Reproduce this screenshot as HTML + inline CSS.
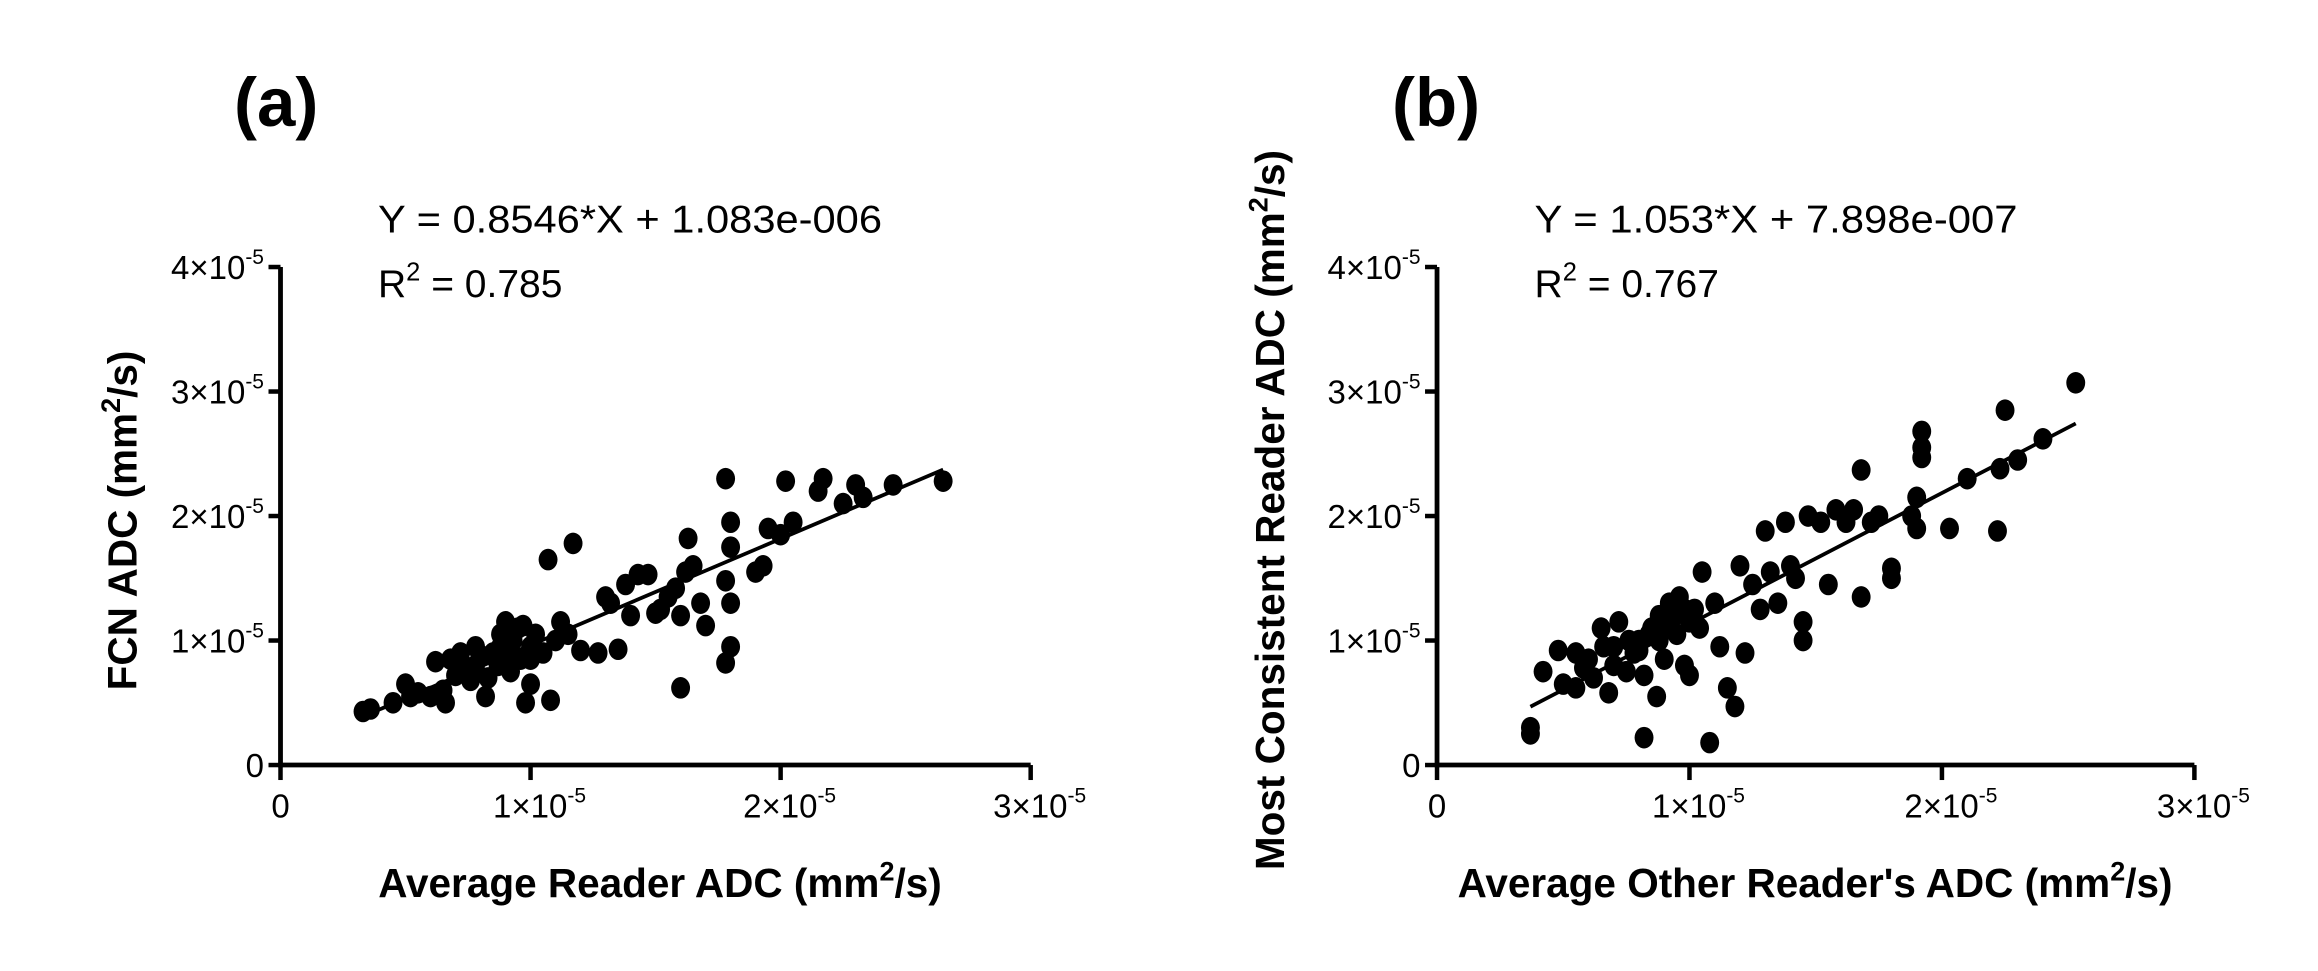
<!DOCTYPE html>
<html><head><meta charset="utf-8"><style>
html,body{margin:0;padding:0;background:#fff;}
svg{display:block;font-family:"Liberation Sans",Arial,sans-serif;}
</style></head><body>
<svg id="chart" width="2318" height="971" viewBox="0 0 1545.3 647.3" xmlns="http://www.w3.org/2000/svg"></svg>
<script>
// Panel (a) data (units of 1e-5 mm^2/s)
const aX=[0.33,0.36,0.45,0.5,0.52,0.55,0.6,0.62,0.65,0.66,0.68,0.7,0.72,0.75,0.76,0.78,0.8,0.82,0.83,0.85,0.87,0.88,0.9,0.92,0.93,0.95,0.96,0.97,0.98,1.0,1.0,1.02,1.05,1.07,1.08,1.1,1.12,1.15,1.17,1.2,1.27,1.3,1.32,1.35,1.38,1.4,1.43,1.47,1.5,1.52,1.55,1.58,1.6,1.6,1.62,1.63,1.65,1.68,1.7,1.78,1.78,1.8,1.8,1.8,1.8,1.78,1.9,1.93,1.95,2.0,2.02,2.05,2.15,2.17,2.25,2.3,2.33,2.45,2.65,0.88,0.92,1.0,0.73,0.78];
const aY=[0.43,0.45,0.5,0.65,0.55,0.58,0.55,0.83,0.6,0.5,0.85,0.72,0.9,0.78,0.68,0.8,0.88,0.55,0.7,0.9,0.8,1.05,1.15,0.75,1.0,1.1,0.85,1.12,0.5,0.65,0.95,1.05,0.9,1.65,0.52,1.0,1.15,1.05,1.78,0.92,0.9,1.35,1.3,0.93,1.45,1.2,1.53,1.53,1.22,1.25,1.35,1.42,1.2,0.62,1.55,1.82,1.6,1.3,1.12,1.48,2.3,1.95,1.75,1.3,0.95,0.82,1.55,1.6,1.9,1.85,2.28,1.95,2.2,2.3,2.1,2.25,2.15,2.25,2.28,0.95,0.9,0.85,0.75,0.95];
const aSlope=0.8546, aInt=0.1083, aXmin=0.33, aXmax=2.65;
// Panel (b) data
const bX=[0.37,0.37,0.42,0.48,0.5,0.55,0.55,0.58,0.62,0.65,0.68,0.7,0.72,0.75,0.78,0.8,0.82,0.82,0.85,0.87,0.88,0.9,0.92,0.95,0.96,0.98,1.0,1.0,1.02,1.05,1.08,1.1,1.12,1.15,1.18,1.2,1.22,1.25,1.28,1.3,1.32,1.35,1.38,1.4,1.42,1.45,1.45,1.47,1.52,1.55,1.58,1.62,1.65,1.68,1.68,1.72,1.75,1.8,1.8,1.88,1.9,1.9,1.92,1.92,1.92,2.03,2.1,2.22,2.23,2.25,2.3,2.4,2.53,0.6,0.7,0.76,0.84,0.9,0.94,0.98,1.04,0.66,0.8,0.88];
const bY=[0.25,0.3,0.75,0.92,0.65,0.9,0.62,0.78,0.7,1.1,0.58,0.95,1.15,0.75,0.9,1.0,0.72,0.22,1.1,0.55,1.2,0.85,1.3,1.05,1.35,0.8,1.15,0.72,1.25,1.55,0.18,1.3,0.95,0.62,0.47,1.6,0.9,1.45,1.25,1.88,1.55,1.3,1.95,1.6,1.5,1.15,1.0,2.0,1.95,1.45,2.05,1.95,2.05,1.35,2.37,1.95,2.0,1.5,1.58,2.0,2.15,1.9,2.47,2.55,2.68,1.9,2.3,1.88,2.38,2.85,2.45,2.62,3.07,0.85,0.8,1.0,1.05,1.12,1.2,1.25,1.1,0.95,0.92,1.0];
const bSlope=1.053, bInt=0.079, bXmin=0.37, bXmax=2.53;
const yTicks=[0,1,2,3,4];
const xTicks=[0,1,2,3];

const NS="http://www.w3.org/2000/svg";
const svg=document.getElementById('chart');
function mk(tag,attrs,parent){const e=document.createElementNS(NS,tag);for(const k in attrs)e.setAttribute(k,attrs[k]);(parent||svg).appendChild(e);return e;}
function sci(parent,x,y,v,anchor){
  const t=mk('text',{x:x,y:y,'font-size':22,'text-anchor':anchor},parent);
  if(v===0){t.textContent='0';return t;}
  const s1=document.createElementNS(NS,'tspan');s1.textContent=v+'\u00d710';t.appendChild(s1);
  const s2=document.createElementNS(NS,'tspan');s2.setAttribute('dy','-10');s2.setAttribute('font-size','14');s2.textContent='-5';t.appendChild(s2);
  return t;
}
function panel(cfg){
  const g=mk('g',{});
  
  
  const sx=v=>cfg.x0+v*cfg.xs, sy=v=>cfg.y0-v*cfg.ys;
  const ax=mk('line',{x1:cfg.x0,y1:cfg.y0,x2:sx(3),y2:cfg.y0,stroke:'#000','stroke-width':3.2},g);
  
  const ay=mk('line',{x1:cfg.x0,y1:cfg.y0+1.6,x2:cfg.x0,y2:sy(4),stroke:'#000','stroke-width':3.2},g);
  
  yTicks.forEach(v=>{
    const tk=mk('line',{x1:cfg.x0-8,y1:sy(v),x2:cfg.x0,y2:sy(v),stroke:'#000','stroke-width':3},g);
    
    const l=sci(g,cfg.x0-11,sy(v)+8,v,'end');
    
  });
  xTicks.forEach(v=>{
    const tk=mk('line',{x1:sx(v),y1:cfg.y0,x2:sx(v),y2:cfg.y0+10,stroke:'#000','stroke-width':3},g);
    
    const l=sci(g,sx(v)+(v?6:0),cfg.y0+35,v,'middle');
    
  });
  cfg.xs_.forEach((xv,i)=>{
    const c=mk('ellipse',{cx:sx(xv),cy:sy(cfg.ys_[i]),rx:6.3,ry:7.2,fill:'#000'},g);
    
  });
  const fl=mk('line',{x1:sx(cfg.xmin),y1:sy(cfg.slope*cfg.xmin+cfg.int),x2:sx(cfg.xmax),y2:sy(cfg.slope*cfg.xmax+cfg.int),stroke:'#000','stroke-width':2.5},g);
  
  const pl=mk('text',{x:cfg.lx,y:84,'font-size':46,'font-weight':'bold'},g);pl.textContent=cfg.label;
  
  const eq=mk('text',{x:cfg.x0+65,y:155,'font-size':26,textLength:cfg.eqw,lengthAdjust:'spacingAndGlyphs'},g);eq.textContent=cfg.eq;
  
  const r2=mk('text',{x:cfg.x0+65,y:198,'font-size':26},g);
  r2.innerHTML='R<tspan dy="-11" font-size="17">2</tspan><tspan dy="11"> = '+cfg.r2+'</tspan>';
  
  const xt=mk('text',{x:cfg.xtx,y:598,'font-size':27,'font-weight':'bold','text-anchor':'middle'},g);
  xt.innerHTML=cfg.xtitle[0]+'<tspan dy="-11" font-size="18">2</tspan><tspan dy="11">'+cfg.xtitle[1]+'</tspan>';
  
  const yt=mk('text',{x:0,y:0,'font-size':27,'font-weight':'bold','text-anchor':'middle',transform:'translate('+cfg.ytx+','+cfg.yty+') rotate(-90)'},g);
  yt.innerHTML=cfg.ytitle[0]+'<tspan dy="-11" font-size="18">2</tspan><tspan dy="11">'+cfg.ytitle[1]+'</tspan>';
  
}
panel({name:'panel-a',x0:187,y0:510,xs:166.7,ys:83,xs_:aX,ys_:aY,slope:aSlope,int:aInt,xmin:aXmin,xmax:aXmax,
  lx:156,label:'(a)',eq:'Y = 0.8546*X + 1.083e-006',eqw:336,r2:'0.785',xtx:440,xtitle:['Average Reader ADC (mm','/s)'],ytx:91,yty:347,ytitle:['FCN ADC (mm','/s)']});
panel({name:'panel-b',x0:958,y0:510,xs:168.3,ys:83,xs_:bX,ys_:bY,slope:bSlope,int:bInt,xmin:bXmin,xmax:bXmax,
  lx:928,label:'(b)',eq:'Y = 1.053*X + 7.898e-007',eqw:322,r2:'0.767',xtx:1210,xtitle:["Average Other Reader's ADC (mm",'/s)'],ytx:856,yty:340,ytitle:['Most Consistent Reader ADC (mm','/s)']});
</script>
</body></html>
